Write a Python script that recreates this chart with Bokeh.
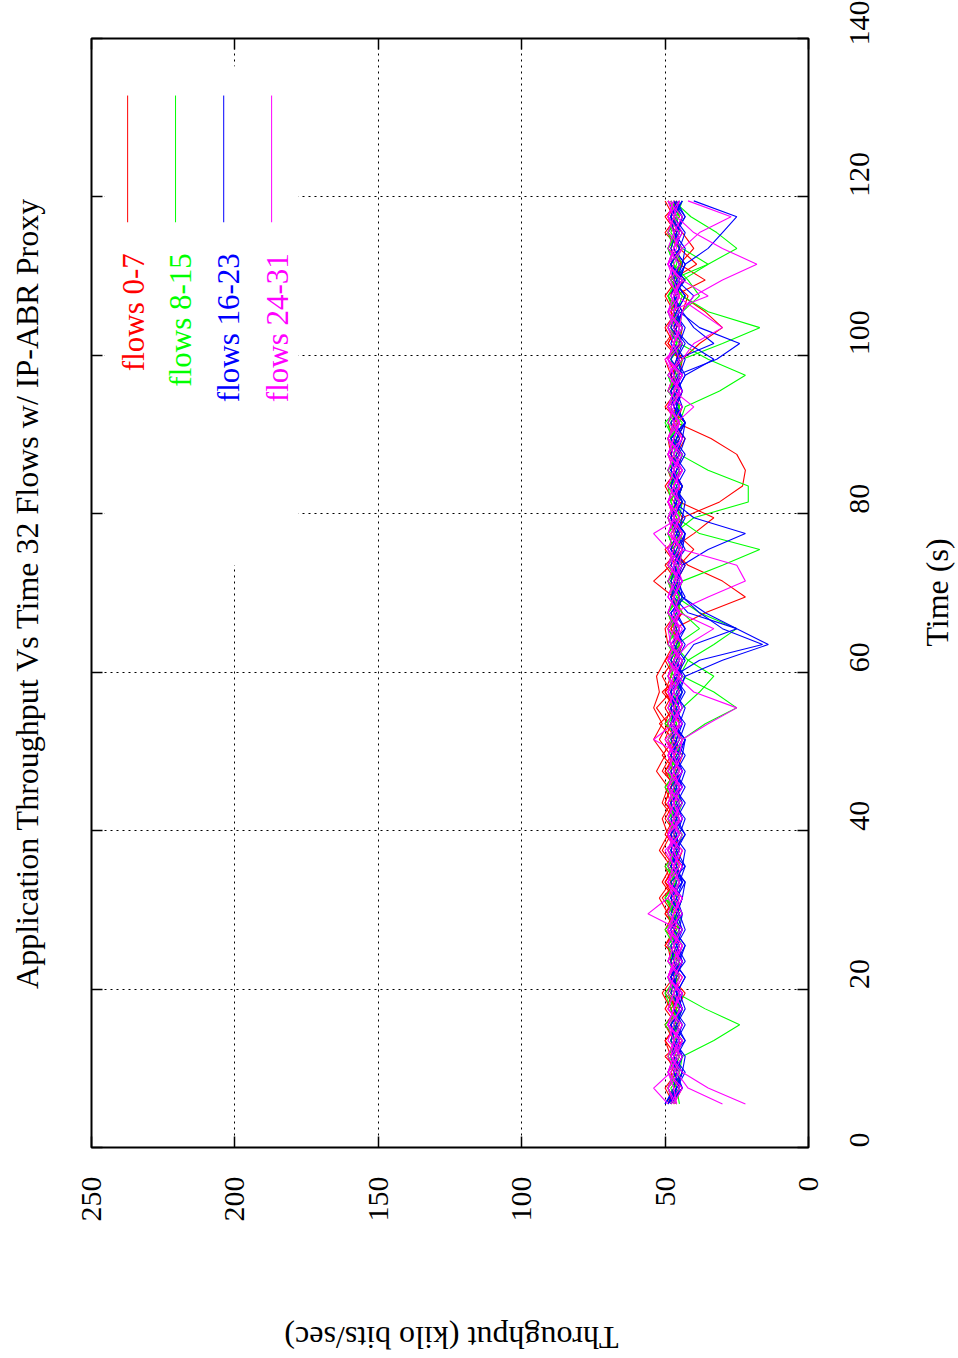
from math import pi
from bokeh.plotting import figure
from bokeh.layouts import row, column
from bokeh.models import (Range1d, FixedTicker, LinearAxis, Label, BoxAnnotation,
                          CustomJSTickFormatter)
from bokeh.embed import file_html
from bokeh.resources import INLINE

# ---------------- data ----------------
time_s = [5.5, 7.5, 9.5, 11.5, 13.5, 15.5, 17.5, 19.5, 21.5, 23.5,
          25.5, 27.5, 29.5, 31.5, 33.5, 35.5, 37.5, 39.5, 41.5, 43.5,
          45.5, 47.5, 49.5, 51.5, 53.5, 55.5, 57.5, 59.5, 61.5, 63.5,
          65.5, 67.5, 69.5, 71.5, 73.5, 75.5, 77.5, 79.5, 81.5, 83.5,
          85.5, 87.5, 89.5, 91.5, 93.5, 95.5, 97.5, 99.5, 101.5, 103.5,
          105.5, 107.5, 109.5, 111.5, 113.5, 115.5, 117.5, 119.5]

flows_0_7 = [
    [48, 45, 49, 46, 50, 45, 48, 44, 49, 47,
     45, 50, 47, 51, 46, 49, 45, 50, 47, 49,
     46, 51, 48, 52, 49, 53, 48, 51, 47, 45,
     49, 44, 48, 46, 43, 48, 45, 44, 31, 23,
     22, 25, 34, 46, 49, 45, 48, 44, 47, 50,
     46, 49, 44, 48, 45, 50, 46, 48],
    [46, 49, 45, 50, 44, 48, 46, 43, 48, 45,
     50, 46, 49, 45, 50, 47, 51, 48, 46, 50,
     48, 46, 51, 47, 52, 46, 50, 45, 49, 44,
     47, 36, 22, 30, 42, 48, 40, 33, 45, 49,
     44, 48, 46, 43, 49, 45, 48, 50, 44, 48,
     45, 49, 43, 48, 45, 47, 49, 46],
    [47, 44, 49, 45, 47, 50, 46, 49, 45, 48,
     49, 46, 50, 47, 51, 48, 52, 49, 47, 51,
     49, 53, 50, 54, 51, 54, 52, 53, 50, 47,
     46, 49, 45, 48, 46, 44, 49, 46, 49, 44,
     48, 46, 43, 48, 45, 49, 45, 44, 38, 30,
     36, 44, 48, 39, 45, 49, 45, 47],
    [49, 47, 44, 48, 50, 46, 48, 51, 47, 45,
     50, 47, 49, 52, 48, 50, 46, 49, 51, 48,
     47, 50, 46, 50, 48, 46, 51, 45, 48, 46,
     45, 49, 47, 54, 48, 44, 47, 49, 45, 47,
     44, 48, 49, 45, 50, 46, 48, 44, 49, 46,
     44, 42, 48, 45, 40, 44, 49, 46],
    [47, 50, 46, 47, 44, 49, 46, 50, 45, 48,
     45, 49, 46, 50, 47, 44, 48, 46, 50, 47,
     45, 50, 47, 44, 47, 50, 47, 45, 44, 49,
     50, 46, 45, 49, 46, 50, 44, 48, 46, 44,
     47, 45, 49, 46, 44, 49, 47, 45, 50, 46,
     48, 45, 47, 44, 49, 46, 50, 45],
    [48, 45, 47, 49, 46, 50, 45, 48, 46, 44,
     49, 47, 45, 48, 46, 49, 45, 47, 49, 46,
     45, 48, 47, 49, 45, 47, 50, 48, 46, 44,
     48, 45, 47, 44, 49, 47, 44, 47, 49, 45,
     47, 49, 45, 46, 49, 45, 48, 46, 45, 49,
     47, 50, 46, 48, 45, 49, 47, 50],
    [46, 49, 47, 44, 48, 46, 50, 47, 44, 49,
     47, 45, 50, 46, 48, 45, 49, 47, 45, 50,
     48, 45, 49, 46, 50, 48, 45, 49, 47, 45,
     48, 44, 47, 49, 45, 40, 46, 48, 44, 47,
     49, 45, 47, 49, 46, 44, 48, 45, 49, 46,
     44, 47, 36, 45, 48, 46, 44, 49],
    [49, 46, 48, 45, 47, 44, 49, 45, 48, 46,
     44, 48, 45, 47, 50, 46, 44, 49, 46, 48,
     50, 46, 44, 48, 46, 49, 45, 47, 50, 45,
     47, 49, 45, 46, 50, 45, 48, 44, 47, 50,
     46, 44, 49, 47, 45, 48, 46, 49, 45, 44,
     48, 46, 49, 44, 47, 45, 48, 46],
]

flows_8_15 = [
    [48, 46, 45, 44, 33, 24, 36, 46, 49, 45,
     47, 50, 45, 48, 46, 49, 47, 44, 48, 46,
     49, 45, 47, 44, 50, 45, 48, 46, 44, 49,
     46, 49, 45, 48, 44, 47, 49, 45, 48, 46,
     49, 45, 47, 50, 45, 48, 44, 49, 46, 45,
     49, 46, 48, 44, 47, 49, 45, 48],
    [47, 49, 45, 48, 46, 50, 45, 47, 49, 46,
     48, 45, 47, 50, 46, 48, 45, 49, 46, 48,
     45, 49, 46, 44, 48, 46, 49, 45, 42, 33,
     25, 38, 46, 49, 45, 47, 49, 45, 44, 48,
     46, 44, 48, 46, 45, 49, 46, 44, 30, 17,
     35, 44, 48, 45, 49, 46, 44, 48],
    [46, 49, 47, 45, 48, 46, 44, 49, 46, 45,
     49, 46, 44, 48, 46, 50, 45, 48, 46, 44,
     49, 45, 47, 44, 36, 25, 33, 44, 48, 45,
     49, 46, 44, 49, 45, 47, 49, 45, 46, 49,
     45, 47, 49, 45, 43, 31, 22, 35, 45, 49,
     46, 44, 48, 46, 45, 49, 46, 44],
    [47, 45, 49, 46, 44, 48, 46, 45, 49, 46,
     44, 47, 49, 45, 47, 49, 45, 46, 49, 45,
     47, 49, 45, 46, 49, 45, 47, 49, 45, 46,
     49, 45, 47, 49, 45, 44, 47, 40, 21, 21,
     35, 45, 48, 49, 45, 47, 49, 45, 46, 49,
     45, 47, 44, 35, 25, 32, 41, 47],
    [48, 46, 49, 45, 48, 46, 48, 50, 46, 48,
     46, 49, 45, 50, 46, 48, 46, 44, 49, 46,
     50, 46, 48, 45, 47, 44, 38, 33, 42, 47,
     45, 49, 46, 44, 30, 17, 38, 46, 48, 49,
     45, 49, 46, 44, 49, 46, 45, 48, 46, 44,
     47, 49, 45, 47, 49, 45, 46, 49],
    [45, 46, 49, 46, 48, 45, 47, 49, 45, 47,
     49, 45, 47, 49, 45, 46, 49, 45, 47, 48,
     46, 49, 47, 44, 48, 47, 44, 48, 46, 49,
     47, 49, 45, 46, 49, 45, 47, 49, 45, 46,
     49, 45, 47, 48, 45, 47, 49, 45, 47, 45,
     44, 38, 42, 47, 49, 45, 48, 47],
    [46, 48, 44, 49, 46, 47, 44, 48, 46, 49,
     45, 48, 46, 44, 49, 45, 48, 46, 49, 44,
     47, 49, 45, 48, 46, 49, 45, 47, 49, 46,
     38, 44, 48, 45, 49, 46, 44, 49, 46, 48,
     44, 49, 46, 48, 45, 49, 46, 48, 44, 47,
     49, 45, 48, 35, 44, 48, 46, 49],
    [47, 49, 46, 48, 45, 49, 45, 47, 49, 46,
     48, 44, 49, 46, 48, 45, 49, 47, 45, 49,
     46, 48, 44, 49, 46, 48, 46, 44, 48, 45,
     49, 46, 44, 48, 46, 49, 45, 48, 46, 44,
     49, 46, 48, 45, 49, 47, 44, 49, 46, 48,
     45, 49, 46, 48, 44, 49, 46, 45],
]

flows_16_23 = [
    [50, 46, 44, 47, 45, 48, 44, 46, 48, 45,
     43, 47, 45, 48, 44, 46, 48, 45, 43, 47,
     46, 44, 48, 45, 43, 47, 48, 44, 46, 43,
     47, 45, 48, 46, 43, 47, 45, 48, 46, 44,
     48, 45, 43, 47, 46, 44, 47, 45, 48, 46,
     44, 47, 45, 43, 35, 30, 25, 40],
    [49, 45, 47, 44, 46, 43, 47, 45, 48, 44,
     46, 43, 45, 48, 46, 44, 43, 47, 45, 48,
     44, 46, 43, 47, 48, 44, 46, 43, 30, 14,
     25, 42, 47, 44, 48, 46, 43, 47, 45, 48,
     46, 44, 48, 43, 46, 45, 48, 46, 43, 47,
     45, 48, 46, 44, 43, 47, 48, 45],
    [50, 46, 44, 48, 46, 44, 47, 46, 43, 47,
     48, 44, 46, 44, 48, 43, 46, 48, 44, 46,
     43, 47, 45, 48, 44, 46, 43, 47, 38, 16,
     30, 38, 44, 47, 44, 35, 22, 40, 47, 44,
     48, 45, 46, 43, 47, 48, 44, 46, 44, 48,
     46, 43, 47, 45, 48, 46, 44, 47],
    [49, 44, 47, 46, 43, 46, 44, 48, 46, 44,
     47, 45, 44, 46, 43, 48, 45, 46, 48, 44,
     46, 48, 44, 43, 47, 45, 48, 46, 44, 40,
     25, 36, 44, 47, 45, 48, 46, 44, 43, 47,
     45, 48, 46, 43, 47, 44, 46, 32, 24, 38,
     45, 47, 43, 48, 45, 46, 43, 47],
    [48, 46, 44, 43, 47, 48, 44, 46, 43, 47,
     45, 48, 46, 44, 43, 47, 45, 48, 46, 43,
     47, 44, 48, 46, 45, 43, 47, 44, 48, 46,
     43, 47, 45, 48, 46, 44, 43, 47, 44, 48,
     46, 43, 47, 45, 48, 46, 43, 46, 33, 40,
     44, 47, 45, 43, 47, 44, 48, 46],
    [50, 47, 46, 44, 48, 46, 43, 45, 47, 48,
     46, 44, 48, 46, 44, 48, 46, 43, 47, 45,
     48, 44, 46, 43, 47, 48, 44, 46, 43, 47,
     45, 48, 43, 46, 44, 48, 46, 43, 47, 45,
     48, 46, 44, 43, 47, 48, 45, 43, 47, 44,
     46, 43, 47, 48, 45, 43, 47, 44],
    [49, 46, 43, 47, 45, 48, 44, 46, 47, 43,
     46, 48, 44, 47, 45, 43, 48, 46, 44, 47,
     45, 43, 47, 46, 44, 48, 45, 43, 47, 44,
     46, 48, 44, 45, 47, 43, 46, 48, 44, 46,
     43, 47, 45, 48, 44, 46, 43, 33, 42, 47,
     44, 40, 46, 43, 47, 45, 48, 44],
    [48, 44, 46, 48, 43, 47, 45, 44, 48, 46,
     43, 47, 45, 48, 44, 46, 47, 43, 46, 48,
     44, 47, 45, 43, 48, 46, 44, 47, 45, 48,
     43, 46, 48, 44, 47, 45, 43, 48, 46, 44,
     47, 45, 48, 43, 46, 47, 44, 48, 45, 43,
     47, 46, 44, 48, 45, 47, 43, 46],
]

flows_24_31 = [
    [22, 35, 44, 48, 45, 49, 47, 44, 49, 46,
     44, 48, 47, 44, 49, 45, 47, 49, 45, 47,
     49, 45, 47, 44, 48, 45, 49, 47, 44, 48,
     45, 49, 47, 44, 46, 49, 47, 45, 49, 47,
     44, 47, 49, 45, 48, 44, 49, 45, 47, 49,
     45, 48, 44, 49, 46, 47, 49, 45],
    [30, 42, 46, 49, 47, 45, 49, 47, 44, 49,
     47, 45, 56, 49, 45, 47, 49, 45, 47, 49,
     45, 47, 49, 45, 47, 44, 47, 49, 45, 48,
     49, 45, 47, 44, 49, 45, 47, 49, 45, 47,
     45, 49, 47, 45, 49, 47, 44, 49, 47, 45,
     49, 47, 45, 49, 47, 44, 47, 49],
    [49, 54, 48, 46, 44, 49, 47, 45, 49, 47,
     44, 49, 47, 45, 49, 47, 50, 45, 49, 47,
     44, 49, 47, 50, 45, 49, 47, 45, 49, 44,
     47, 45, 49, 47, 45, 44, 49, 47, 45, 49,
     47, 45, 49, 47, 44, 49, 47, 50, 45, 49,
     47, 45, 49, 47, 44, 49, 47, 45],
    [46, 49, 47, 44, 49, 47, 45, 49, 47, 44,
     49, 47, 45, 49, 47, 44, 49, 47, 45, 49,
     47, 44, 49, 47, 45, 49, 47, 44, 49, 47,
     45, 47, 35, 22, 25, 44, 48, 45, 49, 47,
     44, 49, 47, 45, 49, 47, 44, 49, 47, 45,
     44, 40, 30, 18, 30, 40, 46, 48],
    [47, 44, 49, 47, 45, 49, 47, 44, 49, 47,
     45, 49, 47, 44, 49, 47, 45, 49, 47, 44,
     49, 47, 45, 44, 35, 25, 40, 46, 49, 47,
     44, 49, 47, 45, 49, 47, 44, 49, 47, 45,
     49, 47, 44, 49, 47, 45, 49, 44, 40, 30,
     38, 46, 48, 45, 49, 47, 44, 49],
    [46, 47, 49, 45, 47, 49, 44, 47, 49, 45,
     47, 49, 44, 47, 49, 45, 47, 49, 44, 47,
     49, 45, 47, 49, 44, 47, 49, 45, 47, 42,
     33, 45, 49, 46, 47, 49, 44, 47, 49, 45,
     47, 49, 44, 47, 49, 45, 47, 49, 44, 47,
     49, 45, 47, 49, 44, 38, 27, 42],
    [48, 45, 49, 47, 44, 49, 47, 45, 49, 47,
     44, 49, 47, 45, 49, 47, 44, 49, 47, 45,
     49, 47, 44, 54, 47, 45, 49, 47, 44, 49,
     47, 45, 49, 47, 44, 49, 54, 45, 49, 47,
     44, 49, 47, 45, 49, 47, 44, 49, 47, 45,
     49, 47, 44, 49, 47, 45, 49, 47],
    [47, 49, 45, 48, 47, 44, 49, 47, 45, 49,
     47, 44, 49, 47, 45, 49, 47, 44, 49, 47,
     45, 49, 47, 44, 49, 47, 45, 49, 47, 44,
     49, 47, 45, 49, 47, 44, 49, 47, 45, 49,
     47, 44, 49, 46, 40, 47, 45, 49, 47, 44,
     49, 35, 44, 49, 47, 45, 49, 47],
]

groups = [("flows 0-7", "#ff0000", flows_0_7),
          ("flows 8-15", "#00ff00", flows_8_15),
          ("flows 16-23", "#0000ff", flows_16_23),
          ("flows 24-31", "#ff00ff", flows_24_31)]

for _, _, fl in groups:
    for s in fl:
        assert len(s) == len(time_s), len(s)

time_ticks = [0, 20, 40, 60, 80, 100, 120, 140]
thr_ticks = [0, 50, 100, 150, 200, 250]

TITLE = "Application Throughput Vs Time 32 Flows w/ IP-ABR Proxy"
FONT = "Liberation Serif"

MAIN_W, MAIN_H = 910, 1250
TOTAL_W, TOTAL_H = 958, 1358
FRAME_TOP, FRAME_BOTTOM = 38, 1147

# ---------------- main figure ----------------
p = figure(width=MAIN_W, height=MAIN_H,
           x_range=Range1d(250, 0), y_range=Range1d(0, 140),
           x_axis_location="below", y_axis_location="right",
           output_backend="svg", toolbar_location=None,
           min_border_left=91, min_border_right=MAIN_W - 808,
           min_border_top=FRAME_TOP, min_border_bottom=MAIN_H - FRAME_BOTTOM)
p.background_fill_color = "white"
p.border_fill_color = "white"
p.outline_line_color = "black"
p.outline_line_width = 2

p.xgrid.ticker = FixedTicker(ticks=[50, 100, 150, 200])
p.ygrid.ticker = FixedTicker(ticks=[20, 40, 60, 80, 100, 120])
for g in (p.xgrid, p.ygrid):
    g.grid_line_color = "#000000"
    g.grid_line_dash = "2 4"
    g.grid_line_width = 1
    g.grid_line_alpha = 1.0


def style_axis(ax, ticks):
    ax.ticker = FixedTicker(ticks=ticks)
    ax.axis_line_color = None
    ax.major_tick_in = 11
    ax.major_tick_out = 0
    ax.minor_tick_line_color = None
    ax.major_tick_line_color = "black"
    ax.major_tick_line_width = 1.5
    ax.major_label_text_font = FONT
    ax.major_label_text_font_size = "30px"
    ax.major_label_text_font_style = "normal"
    ax.major_label_text_color = "black"
    ax.axis_label_text_font = FONT
    ax.axis_label_text_font_size = "32px"
    ax.axis_label_text_font_style = "normal"
    ax.axis_label_text_color = "black"


bx = p.xaxis[0]
style_axis(bx, thr_ticks)
bx.major_label_orientation = pi / 2
bx.major_label_standoff = 29

ry = p.yaxis[0]
style_axis(ry, time_ticks)
ry.major_label_orientation = pi / 2
ry.major_label_standoff = 51

top_ax = LinearAxis()
style_axis(top_ax, thr_ticks)
top_ax.formatter = CustomJSTickFormatter(code="return ''")
top_ax.major_label_standoff = 0
p.add_layout(top_ax, "above")

left_ax = LinearAxis()
style_axis(left_ax, time_ticks)
left_ax.formatter = CustomJSTickFormatter(code="return ''")
left_ax.major_label_standoff = 0
left_ax.axis_label = TITLE
left_ax.axis_label_standoff = 47
p.add_layout(left_ax, "left")

# the key area clears the grid
p.add_layout(BoxAnnotation(left=245.5, right=177.8, top=136.5, bottom=73.5,
                           fill_color="white", fill_alpha=1.0, line_color=None,
                           level="underlay"))

for name, color, fl in groups:
    for s in fl:
        p.line(s, time_s, line_color=color, line_width=1.1)

key_x_line = [237.4, 220.7, 203.9, 187.2]
key_x_text = [235.4, 219.0, 202.2, 185.1]
for (name, color, _), xl, xt in zip(groups, key_x_line, key_x_text):
    p.segment(x0=[xl], y0=[116.8], x1=[xl], y1=[132.8], line_color=color, line_width=1)
    p.add_layout(Label(x=xt, y=112.9, text=name, angle=pi / 2,
                       text_align="right", text_baseline="middle",
                       text_font=FONT, text_font_size="31px", text_color=color))


# ---------------- strips carrying the rotated axis titles ----------------
def strip(w, h):
    f = figure(width=w, height=h, x_range=Range1d(0, 1), y_range=Range1d(0, 1),
               output_backend="svg", toolbar_location=None,
               x_axis_location=None, y_axis_location=None,
               min_border=0, min_border_left=0, min_border_right=0,
               min_border_top=0, min_border_bottom=0)
    f.grid.visible = False
    f.outline_line_color = None
    f.background_fill_color = "white"
    f.border_fill_color = "white"
    return f


# the right strip's frame is aligned with the main frame (38..1147)
pr = strip(TOTAL_W - MAIN_W, MAIN_H)
pr.add_layout(Label(x=26, y=FRAME_BOTTOM - 592, x_units="screen", y_units="screen",
                    angle=pi / 2, text="Time (s)",
                    text_align="center", text_baseline="middle",
                    text_font=FONT, text_font_size="32px", text_color="black"))

pb = strip(TOTAL_W, TOTAL_H - MAIN_H)
pb.add_layout(Label(x=451, y=TOTAL_H - 1337, x_units="screen", y_units="screen",
                    angle=pi, text="Throughput (kilo bits/sec)",
                    text_align="center", text_baseline="middle",
                    text_font=FONT, text_font_size="32px", text_color="black"))

layout = column(row(p, pr, spacing=0), pb, spacing=0)

open("out.html", "w").write(file_html(layout, INLINE))
